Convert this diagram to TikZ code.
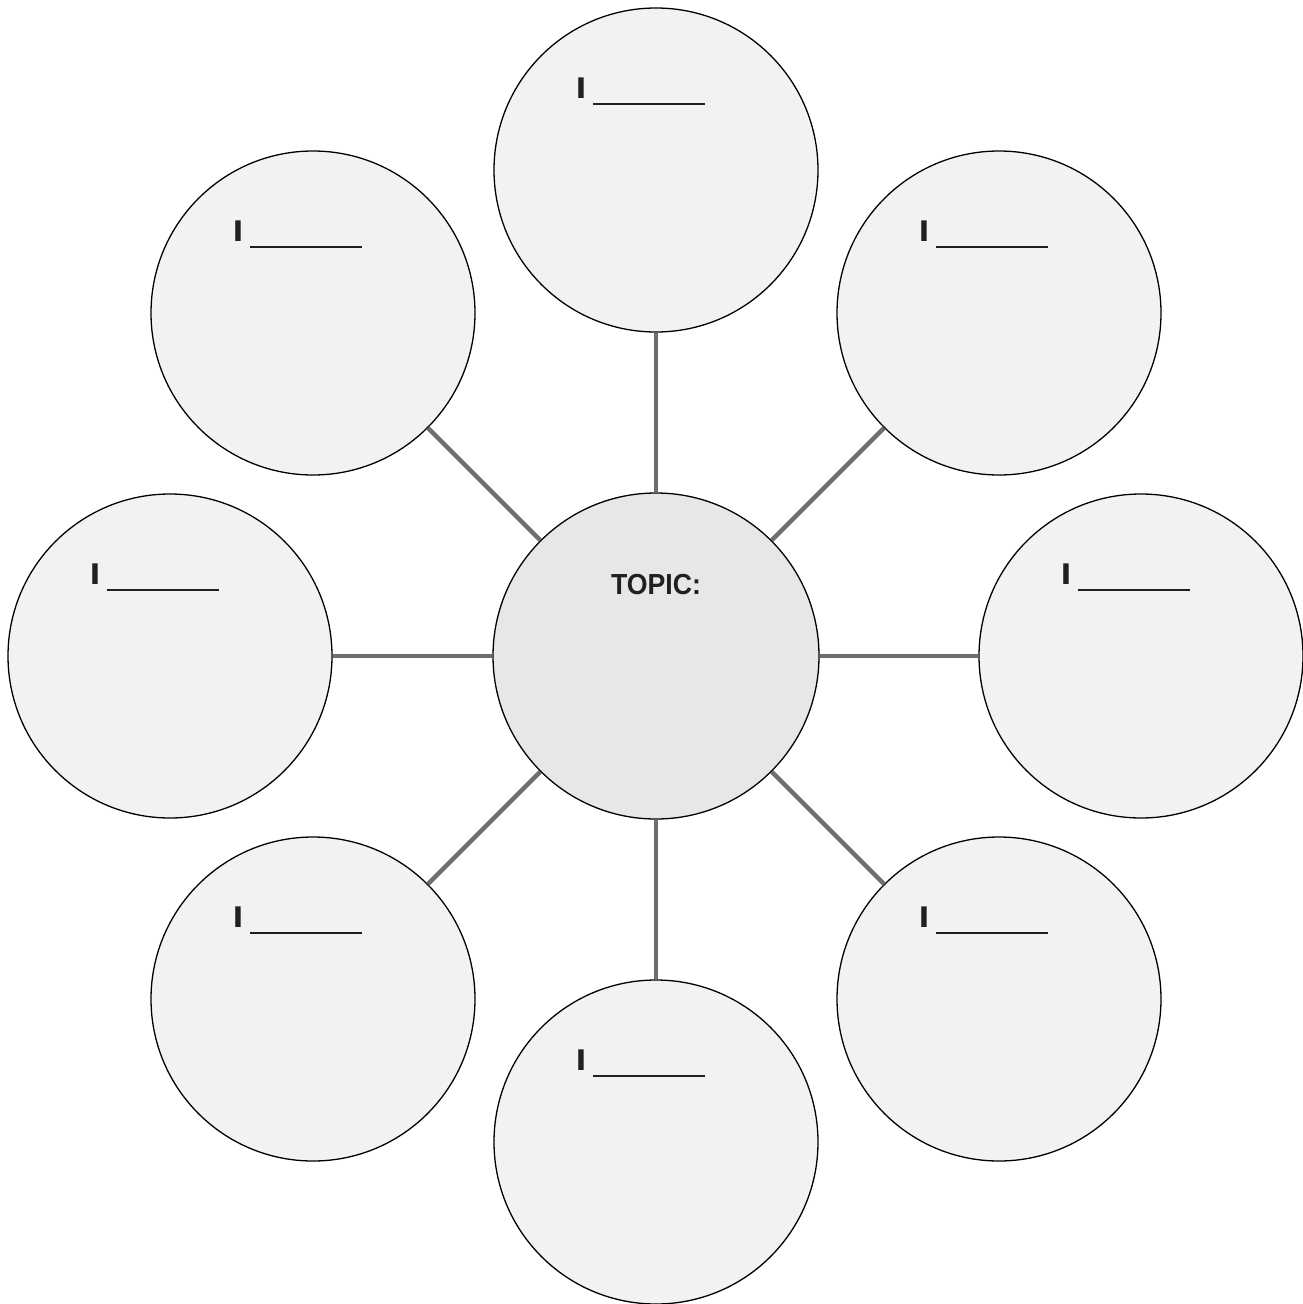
\documentclass[tikz,border=0pt]{standalone}
\usepackage{fontspec}
\setmainfont{Liberation Sans}
\definecolor{leaffill}{HTML}{F1F2F3}
\definecolor{hubfill}{HTML}{E6E7E8}
\definecolor{spokegray}{HTML}{6D6E71}
\definecolor{textdark}{HTML}{231F20}
\begin{document}
\begin{tikzpicture}[x=1pt,y=-1pt,
  hub/.style={circle,draw=black,line width=1.3pt,fill=hubfill,minimum size=326pt,inner sep=0pt},
  leaf/.style={circle,draw=black,line width=1.3pt,fill=leaffill,minimum size=324pt,inner sep=0pt},
  spoke/.style={draw=spokegray,line width=4.5pt},
  promptmark/.style={font=\fontsize{30}{30}\selectfont\bfseries,inner sep=0pt,text=textdark,xscale=1.25},
  blank/.style={draw=textdark,line width=2pt}]
\useasboundingbox (0,0) rectangle (1303,1304);

% central topic circle
\node[hub] (c) at (656,656) {};
\node[font=\fontsize{29}{29}\selectfont\bfseries,inner sep=0pt,text=textdark,xscale=0.92] (topic) at (656,585) {TOPIC:};

% eight surrounding circles
\node[leaf] (n)  at (656,170)  {};
\node[leaf] (ne) at (999,313)  {};
\node[leaf] (e)  at (1141,656) {};
\node[leaf] (se) at (999,999)  {};
\node[leaf] (s)  at (656,1142) {};
\node[leaf] (sw) at (313,999)  {};
\node[leaf] (w)  at (170,656)  {};
\node[leaf] (nw) at (313,313)  {};

% spokes from the hub to each circle
\foreach \o in {n,ne,e,se,s,sw,w,nw}{
  \draw[spoke] (c) -- (\o);
}

% "I ____" prompt in each surrounding circle
\foreach \o in {n,ne,e,se,s,sw,w,nw}{
  \node[promptmark] (\o-i) at ([shift={(-75,-82)}]\o.center) {I};
  \draw[blank] ([shift={(-63,-66)}]\o.center) -- ([shift={(49,-66)}]\o.center);
}
\end{tikzpicture}
\end{document}
